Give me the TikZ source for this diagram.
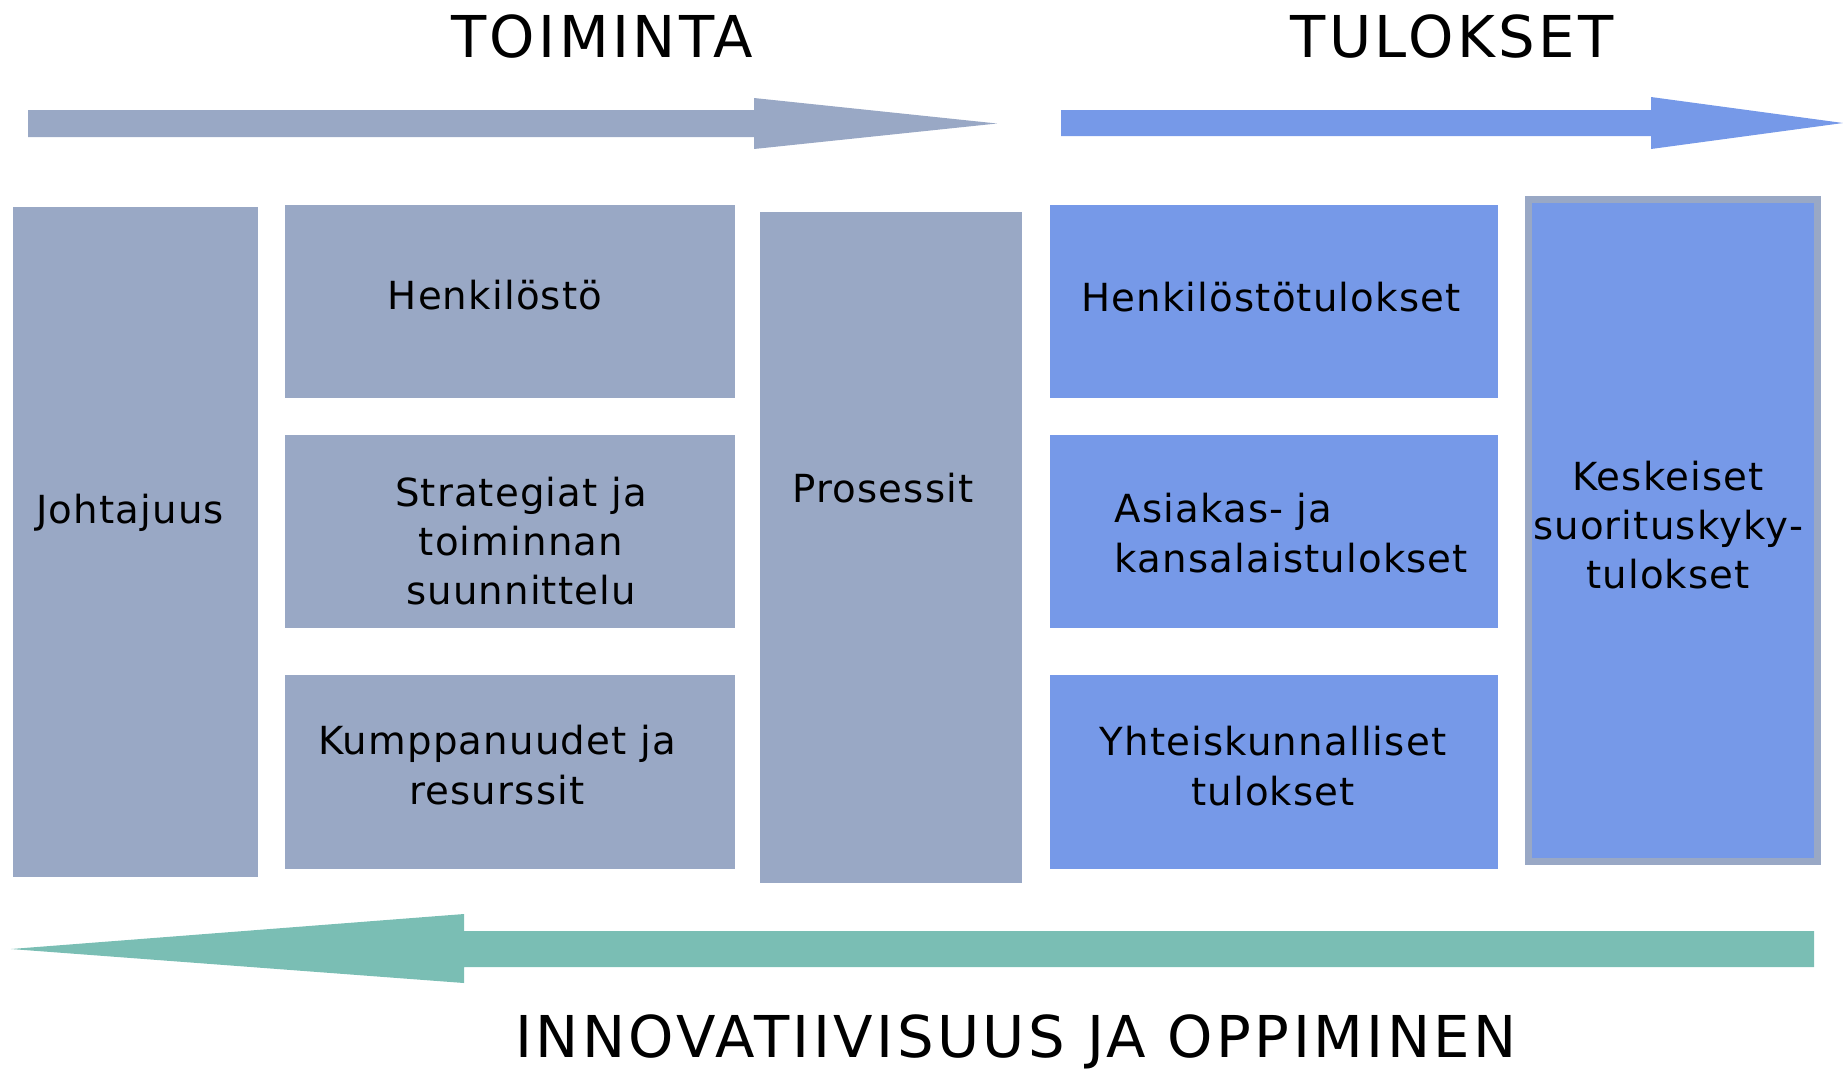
\documentclass[tikz,border=0pt]{standalone}
\usepackage{fontspec}
\setmainfont{DejaVu Sans}
\newfontfamily\headfont[LetterSpace=6]{DejaVu Sans}
\newfontfamily\boxfont[LetterSpace=3]{DejaVu Sans}
\definecolor{actgray}{HTML}{99A8C5}
\definecolor{resblue}{HTML}{7699E8}
\definecolor{learnteal}{HTML}{7ABEB4}
\tikzset{
  actbox/.style={fill=actgray, inner sep=0pt, outer sep=0pt},
  resbox/.style={fill=resblue, inner sep=0pt, outer sep=0pt},
  boxtext/.style={font=\boxfont\fontsize{11}{14}\selectfont, align=center, inner sep=0pt},
  headtext/.style={font=\headfont\fontsize{16.4}{20}\selectfont, inner sep=0pt, text depth=0pt},
}
\begin{document}
\begin{tikzpicture}[x=0.01cm, y=-0.01cm]
        \useasboundingbox (0,0) rectangle (1843,1069);

        % Headings
        \node[headtext] (acthead) at (602,36) {TOIMINTA};
        \node[headtext] (reshead) at (1452,36) {TULOKSET};
        \node[headtext] (learnhead) at (1016,1036) {INNOVATIIVISUUS JA OPPIMINEN};

        % Top arrows
        \fill[actgray] (28,110) -- (754,110) -- (754,98) -- (997,123.5)
            -- (754,149) -- (754,137) -- (28,137) -- cycle;
        \fill[resblue] (1061,110) -- (1651,110) -- (1651,97) -- (1843,123)
            -- (1651,149) -- (1651,136) -- (1061,136) -- cycle;

        % Enablers (TOIMINTA)
        \node[actbox, minimum width=2.45cm, minimum height=6.70cm] (lead) at (135.5,542) {};
        \node[actbox, minimum width=4.50cm, minimum height=1.93cm] (staff) at (510,301.5) {};
        \node[actbox, minimum width=4.50cm, minimum height=1.93cm] (strat) at (510,531.5) {};
        \node[actbox, minimum width=4.50cm, minimum height=1.94cm] (partner) at (510,772) {};
        \node[actbox, minimum width=2.62cm, minimum height=6.71cm] (proc) at (891,547.5) {};

        \node[boxtext] (leadtext) at (130,513) {Johtajuus};
        \node[boxtext] (stafftext) at (495,295) {Henkilöstö};
        \node[boxtext] (strattext) at (521,541) {Strategiat ja\\toiminnan\\suunnittelu};
        \node[boxtext] (partnertext) at (497,765) {Kumppanuudet ja\\resurssit};
        \node[boxtext] (proctext) at (883,488) {Prosessit};

        % Results (TULOKSET)
        \node[resbox, minimum width=4.48cm, minimum height=1.93cm] (staffres) at (1274,301.5) {};
        \node[resbox, minimum width=4.48cm, minimum height=1.93cm] (custres) at (1274,531.5) {};
        \node[resbox, minimum width=4.48cm, minimum height=1.94cm] (socres) at (1274,772) {};
        \node[resbox, draw=actgray, line width=0.07cm,
            minimum width=2.89cm, minimum height=6.62cm] (keyres) at (1673,530.5) {};

        \node[boxtext] (staffrestext) at (1271,297) {Henkilöstötulokset};
        \node[boxtext, align=left, anchor=west] (custrestext) at (1114,533)
            {Asiakas- ja\\kansalaistulokset};
        \node[boxtext] (socrestext) at (1273,766) {Yhteiskunnalliset\\tulokset};
        \node[boxtext] (keyrestext) at (1668,525) {Keskeiset\\suorituskyky-\\tulokset};

        % Bottom arrow
        \fill[learnteal] (1814,931) -- (464,931) -- (464,914) -- (11,949)
            -- (464,983) -- (464,967) -- (1814,967) -- cycle;
\end{tikzpicture}
\end{document}
